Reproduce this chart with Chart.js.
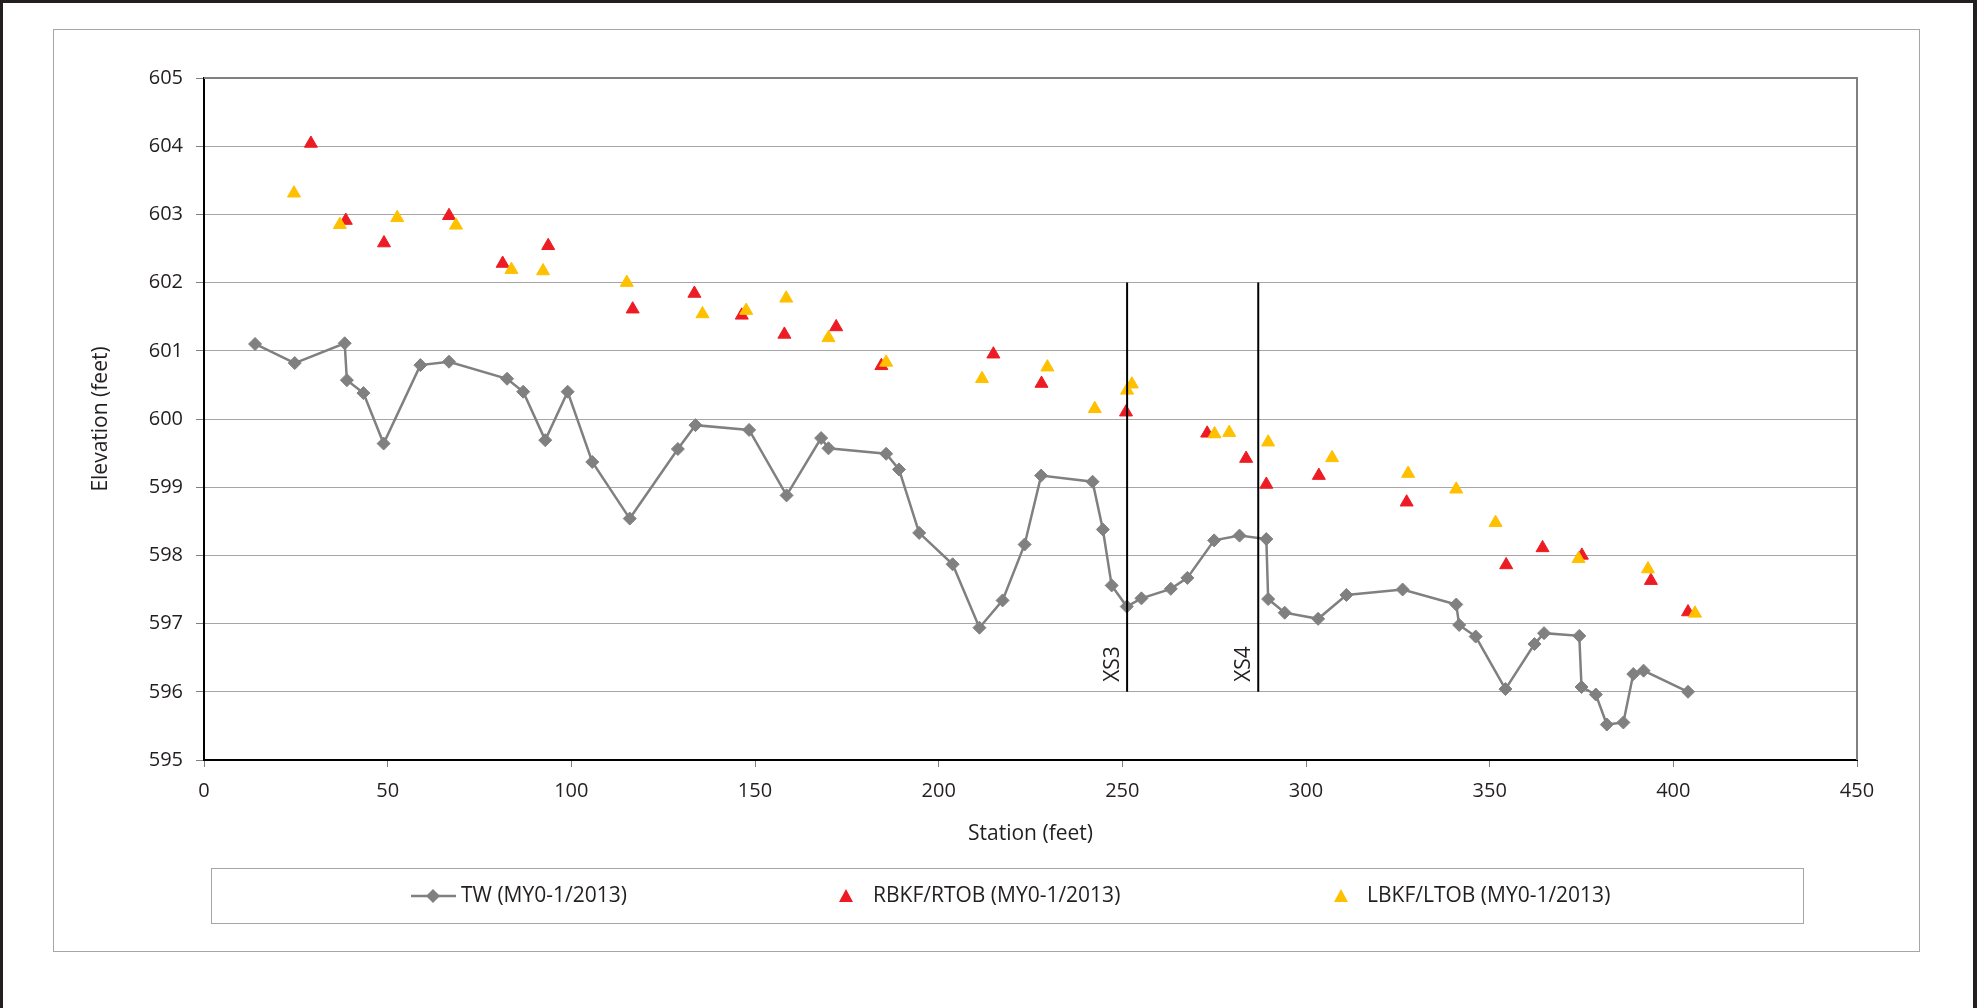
<!DOCTYPE html>
<html lang="en">
<head>
    <meta charset="UTF-8">
    <title>Station vs Elevation</title>
    <script src="https://cdn.jsdelivr.net/npm/chart.js"></script>
    <style>
        body {
            margin: 0;
            padding: 0;
            background-color: white;
            overflow: hidden;
        }
        canvas {
            display: block;
        }
    </style>
</head>
<body>
    <canvas id="profileChart" width="1977" height="1008"></canvas>

    <script>
        // Thalweg profile (station in feet, elevation in feet)
        const twStation = [13.9, 24.7, 38.3, 38.9, 43.4, 48.9, 58.9, 66.7, 82.5, 86.9, 92.9, 99.0, 105.7, 115.9, 129.0, 133.8,
            148.4, 158.6, 168.0, 170.0, 185.7, 189.2, 194.7, 203.8, 211.1, 217.4, 223.4, 227.9, 241.9, 244.7, 247.1, 251.2,
            255.2, 263.2, 267.7, 275.0, 281.9, 289.2, 289.7, 294.2, 303.3, 311.0, 326.3, 340.9, 341.7, 346.2, 354.3, 362.2,
            364.8, 374.4, 375.0, 378.9, 381.9, 386.4, 389.1, 391.9, 404.0];
        const twElev = [601.10, 600.82, 601.11, 600.57, 600.38, 599.64, 600.79, 600.84, 600.59, 600.40, 599.69, 600.40, 599.37, 598.54, 599.56, 599.91,
            599.84, 598.88, 599.72, 599.57, 599.49, 599.26, 598.33, 597.87, 596.94, 597.34, 598.16, 599.17, 599.08, 598.38, 597.56, 597.25,
            597.37, 597.51, 597.67, 598.22, 598.29, 598.24, 597.36, 597.16, 597.07, 597.42, 597.50, 597.28, 596.98, 596.81, 596.04, 596.70,
            596.86, 596.82, 596.07, 595.96, 595.52, 595.55, 596.26, 596.31, 596.00];

        // Right bankfull / top of bank
        const rbStation = [29.1, 38.6, 49.0, 66.7, 81.3, 93.7, 116.7, 133.5, 146.4, 158.0, 172.1, 184.4, 214.9, 228.0, 251.0,
            273.1, 283.7, 289.2, 303.5, 327.4, 354.5, 364.4, 375.1, 393.9, 404.0];
        const rbElev = [604.04, 602.91, 602.58, 602.98, 602.28, 602.54, 601.61, 601.84, 601.52, 601.24, 601.35, 600.78, 600.95, 600.52, 600.10,
            599.79, 599.42, 599.04, 599.17, 598.78, 597.86, 598.11, 598.00, 597.63, 597.17];

        // Left bankfull / top of bank
        const lbStation = [24.5, 37.0, 52.6, 68.6, 83.7, 92.3, 115.1, 135.7, 147.6, 158.5, 170.0, 185.7, 211.8, 229.6, 242.5,
            251.3, 252.6, 275.1, 279.1, 289.7, 307.1, 327.8, 340.9, 351.6, 374.2, 393.1, 405.9];
        const lbElev = [603.31, 602.85, 602.95, 602.84, 602.19, 602.17, 602.00, 601.54, 601.59, 601.77, 601.19, 600.83, 600.59, 600.76, 600.15,
            600.42, 600.51, 599.78, 599.80, 599.66, 599.43, 599.20, 598.97, 598.48, 597.95, 597.80, 597.15];

        // Cross section markers
        const xsNames = ["XS3", "XS4"];
        const xsStation = [251.3, 287.0];
        const xsTop = 602;
        const xsBottom = 596;

        const seriesNames = ["TW (MY0-1/2013)", "RBKF/RTOB (MY0-1/2013)", "LBKF/LTOB (MY0-1/2013)"];

        const FONT = "'Open Sans', sans-serif";
        const TEXT = "#231f20";
        const GRAY = "#808080";
        const RED = "#ED1C24";
        const GOLD = "#FFC000";

        const pairs = (xs, ys) => xs.map((x, i) => ({ x: x, y: ys[i] }));

        const datasets = [
            {
                label: seriesNames[0],
                data: pairs(twStation, twElev),
                showLine: true,
                borderColor: GRAY,
                backgroundColor: GRAY,
                borderWidth: 2.5,
                pointStyle: "rectRot",
                pointRadius: 6.5,
                pointBorderWidth: 1,
                order: 3,
            },
            {
                label: seriesNames[1],
                data: pairs(rbStation, rbElev),
                showLine: false,
                borderColor: RED,
                backgroundColor: RED,
                pointStyle: "triangle",
                pointRadius: 7.5,
                pointBorderWidth: 1,
                order: 2,
            },
            {
                label: seriesNames[2],
                data: pairs(lbStation, lbElev),
                showLine: false,
                borderColor: GOLD,
                backgroundColor: GOLD,
                pointStyle: "triangle",
                pointRadius: 7.5,
                pointBorderWidth: 1,
                order: 1,
            },
        ];

        xsStation.forEach((s, i) => {
            datasets.push({
                label: xsNames[i],
                data: [{ x: s, y: xsTop }, { x: s, y: xsBottom }],
                showLine: true,
                borderColor: "#000000",
                borderWidth: 2,
                pointRadius: 0,
                order: 0,
            });
        });

        // page frame, chart frame, plot border, XS labels and legend
        const decorations = {
            id: "decorations",
            beforeDraw(chart) {
                const ctx = chart.ctx;
                ctx.save();
                ctx.fillStyle = "#ffffff";
                ctx.fillRect(0, 0, chart.width, chart.height);
                // dark page edges
                ctx.fillStyle = "#231f20";
                ctx.fillRect(0, 0, chart.width, 3);
                ctx.fillRect(0, 0, 3, chart.height);
                ctx.fillRect(chart.width - 4, 0, 4, chart.height);
                // chart frame
                ctx.strokeStyle = "#a6a6a6";
                ctx.lineWidth = 1;
                ctx.strokeRect(53.5, 29.5, 1866, 922);
                // legend box
                ctx.strokeRect(211.5, 868.5, 1592, 55);
                ctx.restore();
            },
            afterDatasetsDraw(chart) {
                const ctx = chart.ctx;
                const a = chart.chartArea;
                const xs = chart.scales.x;
                const ys = chart.scales.y;
                ctx.save();
                ctx.strokeStyle = GRAY;
                ctx.lineWidth = 2;
                ctx.beginPath();
                ctx.moveTo(a.left, a.top);
                ctx.lineTo(a.right, a.top);
                ctx.lineTo(a.right, a.bottom);
                ctx.stroke();

                ctx.fillStyle = TEXT;
                ctx.font = "21px " + FONT;
                ctx.textAlign = "left";
                ctx.textBaseline = "middle";
                xsStation.forEach((s, i) => {
                    const px = xs.getPixelForValue(s);
                    const py = ys.getPixelForValue(xsBottom);
                    ctx.save();
                    ctx.translate(px - 14, py - 10);
                    ctx.rotate(-Math.PI / 2);
                    ctx.fillText(xsNames[i], 0, 0);
                    ctx.restore();
                });
                ctx.restore();
            },
            afterDraw(chart) {
                const ctx = chart.ctx;
                const cy = 896;
                ctx.save();
                // TW: line with diamond
                ctx.strokeStyle = GRAY;
                ctx.lineWidth = 2.5;
                ctx.beginPath();
                ctx.moveTo(411, cy);
                ctx.lineTo(456, cy);
                ctx.stroke();
                ctx.fillStyle = GRAY;
                ctx.beginPath();
                ctx.moveTo(433, cy - 7);
                ctx.lineTo(440, cy);
                ctx.lineTo(433, cy + 7);
                ctx.lineTo(426, cy);
                ctx.closePath();
                ctx.fill();

                const tri = (cx, color) => {
                    ctx.fillStyle = color;
                    ctx.beginPath();
                    ctx.moveTo(cx, cy - 7);
                    ctx.lineTo(cx + 7, cy + 6);
                    ctx.lineTo(cx - 7, cy + 6);
                    ctx.closePath();
                    ctx.fill();
                };
                tri(846, RED);
                tri(1341, GOLD);

                ctx.fillStyle = TEXT;
                ctx.font = "21px " + FONT;
                ctx.textAlign = "left";
                ctx.textBaseline = "middle";
                ctx.fillText(seriesNames[0], 461, cy);
                ctx.fillText(seriesNames[1], 873, cy);
                ctx.fillText(seriesNames[2], 1367, cy);
                ctx.restore();
            },
        };

        const ctx = document.getElementById("profileChart").getContext("2d");
        new Chart(ctx, {
            type: "scatter",
            data: { datasets: datasets },
            plugins: [decorations],
            options: {
                responsive: false,
                animation: false,
                devicePixelRatio: 1,
                layout: {
                    padding: { left: 84, top: 78, right: 120, bottom: 157 },
                },
                plugins: {
                    legend: { display: false },
                    tooltip: { enabled: false },
                },
                scales: {
                    x: {
                        type: "linear",
                        min: 0,
                        max: 450,
                        afterFit(scale) { scale.height = 91; },
                        ticks: {
                            stepSize: 50,
                            color: TEXT,
                            font: { family: FONT, size: 20 },
                            padding: 12,
                            maxRotation: 0,
                        },
                        grid: {
                            drawOnChartArea: false,
                            drawTicks: true,
                            tickLength: 7,
                            tickColor: GRAY,
                        },
                        border: { color: "#000000", width: 2 },
                        title: {
                            display: true,
                            text: "Station (feet)",
                            color: TEXT,
                            font: { family: FONT, size: 21 },
                        },
                    },
                    y: {
                        type: "linear",
                        min: 595,
                        max: 605,
                        afterFit(scale) { scale.width = 120; },
                        ticks: {
                            stepSize: 1,
                            color: TEXT,
                            font: { family: FONT, size: 20 },
                            padding: 13,
                        },
                        grid: {
                            color: "#a6a6a6",
                            lineWidth: 1,
                            drawTicks: true,
                            tickLength: 8,
                            tickColor: GRAY,
                        },
                        border: { color: "#000000", width: 2 },
                        title: {
                            display: true,
                            text: "Elevation (feet)",
                            color: TEXT,
                            font: { family: FONT, size: 21 },
                        },
                    },
                },
            },
        });
    </script>
</body>
</html>
